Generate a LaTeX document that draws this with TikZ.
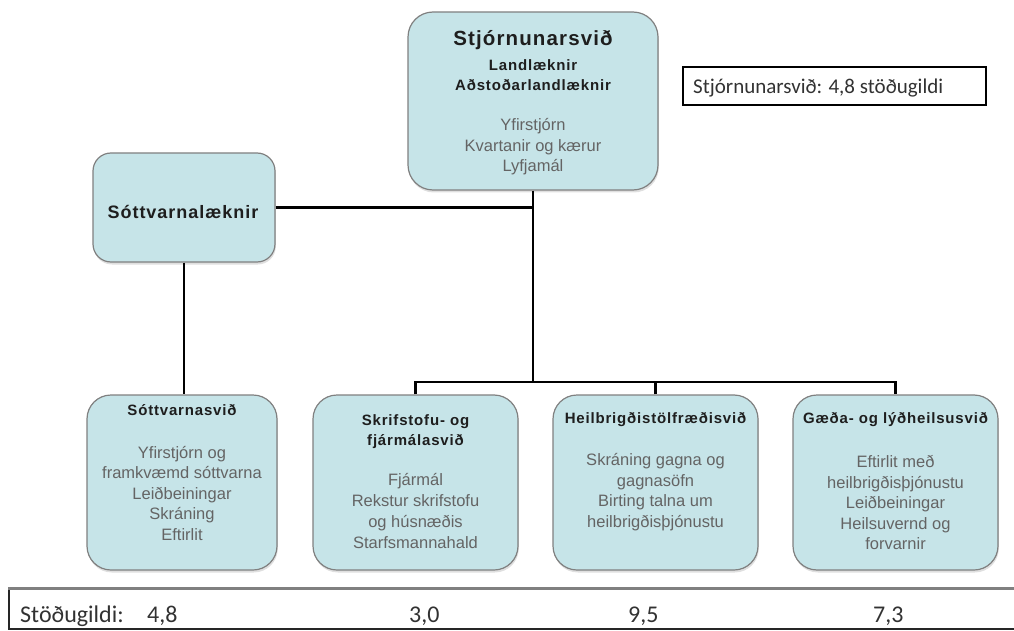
\documentclass[tikz,border=0pt]{standalone}
\usepackage{fontspec}
\setmainfont{Liberation Sans}
\newfontfamily\calfont{Carlito}
\newfontfamily\ttlfont[LetterSpace=5.5]{Liberation Sans}
\usetikzlibrary{shadows}
\definecolor{boxfill}{RGB}{198,228,232}
\definecolor{boxedge}{RGB}{128,128,128}
\definecolor{bodygray}{RGB}{100,100,100}
\definecolor{ttlblack}{RGB}{30,30,30}
\definecolor{tblgray}{RGB}{50,50,50}
\begin{document}
\begin{tikzpicture}[x=1pt,y=-1pt,
  box/.style={draw=boxedge, line width=1.2pt, fill=boxfill, inner sep=0pt,
    drop shadow={shadow xshift=0.8pt, shadow yshift=-2.5pt, opacity=0.25}},
  ttl/.style={text=ttlblack, align=center, inner sep=0pt},
  body/.style={text=bodygray, align=center, inner sep=0pt, font=\fontsize{16.5}{20.5}\selectfont},
  conn/.style={draw=black, line width=2.5pt},
  tbltext/.style={text=tblgray, anchor=base west, inner sep=0pt, font=\calfont\fontsize{24}{28}\selectfont}
]
\useasboundingbox (0,0) rectangle (1014,631);

% boxes
\node[box, rounded corners=25pt, minimum width=250pt, minimum height=178pt] (top) at (533,101) {};
\node[box, rounded corners=18pt, minimum width=182pt, minimum height=109pt] (slk) at (184,207.5) {};
\node[box, rounded corners=24pt, minimum width=190pt, minimum height=175pt] (b1) at (182,482.5) {};
\node[box, rounded corners=24pt, minimum width=205pt, minimum height=175pt] (b2) at (415.5,482.5) {};
\node[box, rounded corners=24pt, minimum width=205pt, minimum height=175pt] (b3) at (655.5,482.5) {};
\node[box, rounded corners=24pt, minimum width=205pt, minimum height=175pt] (b4) at (895.5,482.5) {};

% connectors
\coordinate (busy) at (0,382);
\draw[conn] (top.south) -- (top.south |- busy);
\draw[conn] (slk.east) -- (slk.east -| top.south);
\draw[conn] (slk.south) -- (slk.south |- b1.north);
\draw[conn] (b2.north) |- (b4.north |- busy) -- (b4.north);
\draw[conn] (b3.north) -- (b3.north |- busy);

% top box texts
\node[ttl, font=\ttlfont\bfseries\fontsize{20.5}{24}\selectfont] (toptitle) at (533,40) {Stjórnunarsvið};
\node[ttl, font=\ttlfont\bfseries\fontsize{15}{20}\selectfont] (topsub) at (533,75) {Landlæknir\\Aðstoðarlandlæknir};
\node[body] (topbody) at (533,147) {Yfirstjórn\\Kvartanir og kærur\\Lyfjamál};

% Sóttvarnalæknir
\node[ttl, font=\ttlfont\bfseries\fontsize{18}{22}\selectfont] (slktext) at (183,212) {Sóttvarnalæknir};

% bottom boxes texts
\node[ttl, font=\ttlfont\bfseries\fontsize{15}{20}\selectfont] (b1title) at (182,410) {Sóttvarnasvið};
\node[body] (b1body) at (182,493) {Yfirstjórn og\\framkvæmd sóttvarna\\Leiðbeiningar\\Skráning\\Eftirlit};

\node[ttl, font=\ttlfont\bfseries\fontsize{15}{20}\selectfont] (b2title) at (415.5,432) {Skrifstofu- og\\fjármálasvið};
\node[body, font=\fontsize{16.5}{21}\selectfont] (b2body) at (415.5,511) {Fjármál\\Rekstur skrifstofu\\og húsnæðis\\Starfsmannahald};

\node[ttl, font=\ttlfont\bfseries\fontsize{15}{20}\selectfont] (b3title) at (655.5,420) {Heilbrigðistölfræðisvið};
\node[body] (b3body) at (655.5,492) {Skráning gagna og\\gagnasöfn\\Birting talna um\\heilbrigðisþjónustu};

\node[ttl, font=\ttlfont\bfseries\fontsize{15}{20}\selectfont] (b4title) at (895.5,420) {Gæða- og lýðheilsusvið};
\node[body] (b4body) at (895.5,502.5) {Eftirlit með\\heilbrigðisþjónustu\\Leiðbeiningar\\Heilsuvernd og\\forvarnir};

% side box
\node[draw=black, line width=1.6pt, minimum width=303pt, minimum height=38pt, inner sep=0pt] (side) at (834.5,86) {};
\node[anchor=base west, inner sep=0pt, text=tblgray, font=\calfont\fontsize{21}{25}\selectfont] (sidetext) at (693,94) {Stjórnunarsvið: 4,8 stöðugildi};

% bottom table
\node[draw=black!85, line width=1.5pt, minimum width=1011pt, minimum height=40pt, inner sep=0pt] (tbl) at (514.5,609) {};
\draw[line width=3pt, draw=black!50] (tbl.north west) -- (tbl.north east);
\node[tbltext] (t0) at (20,622) {Stöðugildi:};
\node[tbltext] (t1) at (147,622) {4,8};
\node[tbltext] (t2) at (409,622) {3,0};
\node[tbltext] (t3) at (628,622) {9,5};
\node[tbltext] (t4) at (873,622) {7,3};
\end{tikzpicture}
\end{document}
